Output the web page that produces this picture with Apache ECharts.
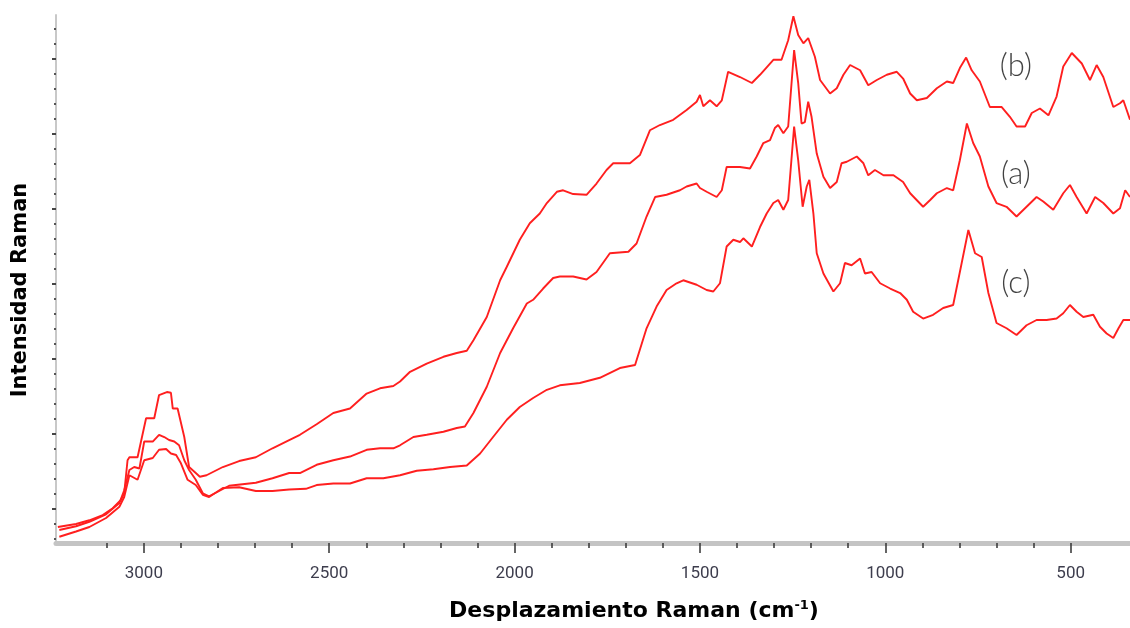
<!DOCTYPE html>
<html>
<head>
<meta charset="utf-8">
<script src="https://cdn.jsdelivr.net/npm/echarts@6/dist/echarts.min.js"></script>
<style>
html,body{margin:0;padding:0;background:#fff;}
#chart{width:1130px;height:628px;}
</style>
</head>
<body>
<div id="chart"></div>
<script>
// Raman shift (cm-1) and intensity
var bX = [3232,3183,3147,3111,3084,3062,3053,3044,3039,3017,2994,2972,2959,2938,2927,2922,2909,2891,2878,2860,2849,2831,2787,2743,2698,2653,2608,2579,2534,2489,2444,2399,2363,2327,2309,2282,2237,2192,2156,2129,2111,2075,2039,2021,1986,1959,1932,1913,1886,1869,1842,1806,1779,1752,1734,1689,1662,1635,1608,1572,1536,1509,1500,1491,1473,1455,1441,1424,1392,1360,1338,1302,1280,1271,1262,1248,1235,1221,1208,1190,1176,1149,1131,1113,1095,1068,1046,1023,996,969,952,933,915,888,861,834,817,799,782,767,745,718,686,664,646,623,605,583,560,538,520,497,470,448,430,412,385,367,358,340];
var bY = [76,80,85,92,101,112,121,165,169,169,221,221,252,256,255,234,234,196,156,148,143,145,156,164,169,181,192,199,213,228,234,254,261,264,270,283,294,303,308,311,325,356,405,423,459,481,494,508,523,525,520,519,534,552,561,561,572,605,612,619,632,643,652,637,645,637,645,683,676,668,679,699,699,712,725,757,732,721,728,703,672,654,661,679,692,685,665,672,679,683,674,654,645,648,661,670,668,688,702,685,670,636,636,623,610,610,628,634,625,650,690,708,694,672,692,676,636,641,645,619];

var aX = [3228,3183,3147,3102,3066,3053,3039,3026,3012,2999,2976,2959,2945,2932,2918,2905,2891,2878,2860,2841,2824,2797,2770,2734,2698,2653,2608,2579,2534,2489,2444,2399,2363,2327,2309,2273,2237,2192,2156,2134,2111,2075,2039,2004,1967,1950,1923,1896,1878,1842,1806,1779,1743,1693,1671,1644,1621,1590,1554,1536,1509,1500,1482,1455,1441,1428,1392,1365,1347,1329,1311,1298,1289,1275,1262,1246,1235,1226,1217,1208,1199,1185,1167,1149,1131,1118,1104,1077,1059,1046,1028,1005,978,952,933,898,879,861,834,817,799,780,763,745,722,700,673,646,619,592,574,547,520,502,484,457,434,412,385,367,353,340];
var aY = [72,77,83,93,108,125,152,156,154,190,190,199,196,192,190,185,165,152,139,121,117,124,131,133,135,141,148,148,159,165,170,179,181,181,185,196,199,203,208,210,228,263,308,341,374,379,394,408,410,410,406,416,441,443,454,490,516,519,525,530,534,528,523,516,525,556,556,554,570,588,592,608,612,601,610,712,668,614,616,643,623,574,543,528,536,561,563,570,561,545,552,545,545,536,521,503,512,521,528,525,565,614,588,570,530,508,503,490,503,516,510,499,521,532,516,494,516,508,494,501,525,516];

var cX = [3228,3183,3147,3102,3066,3053,3039,3017,2999,2976,2959,2940,2927,2913,2900,2882,2860,2841,2824,2787,2743,2698,2653,2608,2563,2534,2489,2444,2399,2354,2309,2264,2219,2174,2129,2093,2058,2021,1986,1950,1913,1878,1824,1770,1716,1675,1644,1617,1590,1563,1545,1509,1482,1464,1446,1428,1410,1392,1383,1360,1338,1320,1302,1289,1275,1262,1246,1235,1223,1212,1205,1194,1185,1167,1140,1122,1109,1091,1068,1055,1037,1014,987,960,942,925,898,871,844,817,794,776,758,740,722,700,673,646,619,592,565,538,520,502,484,466,439,421,403,385,371,358,340];
var cY = [63,70,76,88,103,116,145,139,165,168,179,180,174,172,161,139,132,119,116,128,129,124,124,126,127,132,134,134,141,141,145,151,153,156,158,174,196,219,236,248,259,265,268,275,288,292,341,370,392,401,405,399,392,390,401,450,459,456,461,450,476,494,508,512,499,512,610,565,503,530,539,494,441,414,390,401,428,425,434,414,416,401,394,388,379,363,354,359,368,372,428,472,441,436,388,348,341,332,345,352,352,354,361,372,363,356,359,343,334,328,341,352,352];

// axis tick values
var xMajor = [3000,2500,2000,1500,1000,500];
var xMinor = [3100,2900,2800,2700,2600,2400,2300,2200,2100,1900,1800,1700,1600,1400,1300,1200,1100,900,800,700,600];
var yMajor = [100,200,300,400,500,600,700];
var yMinor = [60,80,120,140,160,180,220,240,260,280,320,340,360,380,420,440,460,480,520,540,560,580,620,640,660,680,720,740];

// curve labels
var tagText = ['(b)','(a)','(c)'];
var tagX = [648,648,648];
var tagY = [691,547,401];

var X_MIN = 340, X_MAX = 3237;
var Y_MIN = 54.7, Y_MAX = 758.7;

function zip(xs, ys){ var o=[]; for (var i=0;i<xs.length;i++) o.push([xs[i], ys[i]]); return o; }

var chart = echarts.init(document.getElementById('chart'), null, {renderer:'canvas'});
var red = '#ff1f1f';
var lineSeries = function(name, xs, ys){
  return {name:name, type:'line', data:zip(xs,ys), showSymbol:false, symbol:'none',
    lineStyle:{color:red, width:1.9}, xAxisIndex:0, yAxisIndex:0, silent:true};
};
var tags = [];
for (var i=0;i<tagText.length;i++) tags.push([tagX[i], tagY[i], tagText[i]]);

var option = {
  animation:false,
  backgroundColor:'#ffffff',
  grid:{left:56, right:0, top:15, bottom:85, containLabel:false},
  xAxis:[{
    type:'value', inverse:true, min:X_MIN, max:X_MAX, position:'bottom',
    axisLine:{show:true, onZero:false, lineStyle:{color:'#c4c4c4', width:5}},
    axisTick:{show:true, customValues:xMajor, length:10, lineStyle:{color:'#333', width:1.5}},
    axisLabel:{show:true, customValues:xMajor, margin:22, fontSize:17,
      formatter:function(v){return String(v);},
      fontFamily:"Roboto,'Liberation Sans',sans-serif", color:'#3d3d4d'},
    splitLine:{show:false},
    name:'Desplazamiento Raman (cm{sup|-1})', nameLocation:'middle', nameGap:56,
    nameTextStyle:{fontFamily:"'DejaVu Sans',sans-serif", fontWeight:'bold', fontSize:22, color:'#000',
      padding:[0,0,0,82],
      rich:{sup:{fontFamily:"'DejaVu Sans',sans-serif", fontWeight:'bold', fontSize:13, color:'#000', padding:[0,0,12,0]}}}
  },{
    type:'value', inverse:true, min:X_MIN, max:X_MAX, position:'bottom', offset:0,
    axisLine:{show:false},
    axisTick:{show:true, customValues:xMinor, length:5, lineStyle:{color:'#333', width:1.5}},
    axisLabel:{show:false}, splitLine:{show:false}
  }],
  yAxis:[{
    type:'value', min:Y_MIN, max:Y_MAX, position:'left',
    axisLine:{show:true, onZero:false, lineStyle:{color:'#c8c8c8', width:2}},
    axisTick:{show:true, customValues:yMajor, length:4, lineStyle:{color:'#444', width:2}},
    axisLabel:{show:false},
    splitLine:{show:false},
    name:'Intensidad Raman', nameLocation:'middle', nameGap:25,
    nameTextStyle:{fontFamily:"'DejaVu Sans',sans-serif", fontWeight:'bold', fontSize:21, color:'#000', padding:[0,0,0,-22]}
  },{
    type:'value', min:Y_MIN, max:Y_MAX, position:'left', offset:0,
    axisLine:{show:false},
    axisTick:{show:true, customValues:yMinor, length:2, lineStyle:{color:'#555', width:2}},
    axisLabel:{show:false}, splitLine:{show:false}
  }],
  series:[
    lineSeries('(b)', bX, bY),
    lineSeries('(a)', aX, aY),
    lineSeries('(c)', cX, cY),
    {type:'scatter', data:tags, symbolSize:0, silent:true, xAxisIndex:0, yAxisIndex:0,
      label:{show:true, position:'inside', formatter:function(p){return p.value[2];},
        fontFamily:"Lato,'Open Sans',sans-serif", fontWeight:300, fontSize:31, color:'#111'}}
  ]
};
chart.setOption(option);
</script>
</body>
</html>
